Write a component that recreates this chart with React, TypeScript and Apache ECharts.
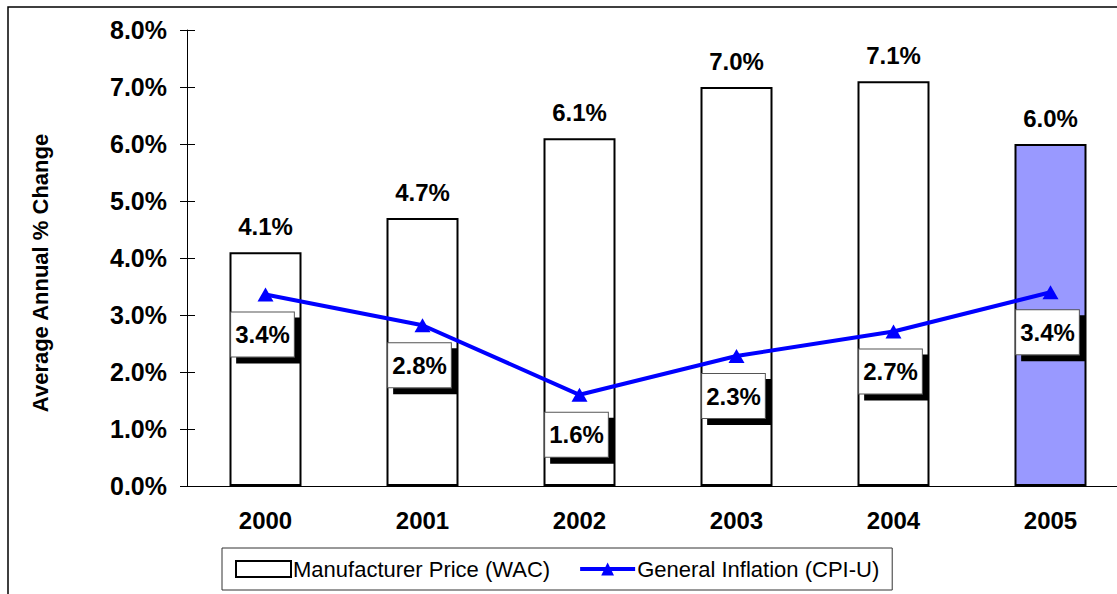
import React, { useEffect, useRef } from "react";
import * as echarts from "echarts";

const categories = ["2000", "2001", "2002", "2003", "2004", "2005"];
const wacValues = [4.1, 4.7, 6.1, 7.0, 7.1, 6.0];
const cpiValues = [3.36, 2.82, 1.6, 2.28, 2.71, 3.4];
const yTicks = [0, 1, 2, 3, 4, 5, 6, 7, 8];
const highlightCategory = "2005";
const yTitle = "Average Annual % Change";

const FONT = "'Liberation Sans', Arial, Helvetica, sans-serif";
const pct = (v: number) => v.toFixed(1) + "%";

export default function App() {
  const ref = useRef<HTMLDivElement>(null);
  useEffect(() => {
    document.body.style.margin = "0";
    const chart = echarts.init(ref.current!, null, { renderer: "svg" });
    const yMin = yTicks[0];
    const yMax = yTicks[yTicks.length - 1];
    chart.setOption({
      animation: false,
      backgroundColor: "#fff",
      textStyle: { fontFamily: FONT },
      graphic: [
        {
          type: "rect",
          shape: { x: 8, y: 7, width: 1300, height: 700 },
          style: { fill: "none", stroke: "#000", lineWidth: 1.5 },
          silent: true,
          z: -10,
        },
        {
          type: "text",
          x: 40,
          y: 273,
          rotation: Math.PI / 2,
          silent: true,
          style: {
            text: yTitle,
            fill: "#000",
            font: `bold 22px ${FONT}`,
            textAlign: "center",
            textVerticalAlign: "middle",
          },
        },
      ],
      grid: { left: 187, top: 30, right: 11, bottom: 108, containLabel: false },
      legend: {
        left: 222,
        top: 548,
        padding: [10, 13, 10, 13],
        borderColor: "#333",
        borderWidth: 1,
        backgroundColor: "#fff",
        itemGap: 28,
        itemWidth: 55,
        itemHeight: 16,
        textStyle: { fontFamily: FONT, fontSize: 22, color: "#000", padding: [0, 0, 0, -3] },
        data: [
          { name: "Manufacturer Price (WAC)", icon: "rect" },
          {
            name: "General Inflation (CPI-U)",
            lineStyle: { width: 4, color: "#0000FF" },
          },
        ],
      },
      xAxis: {
        type: "category",
        data: categories,
        axisLine: { lineStyle: { color: "#000", width: 1 } },
        axisTick: { show: false },
        axisLabel: {
          color: "#000",
          fontWeight: "bold",
          fontSize: 24,
          fontFamily: FONT,
          margin: 22,
        },
      },
      yAxis: [
        {
          type: "value",
          min: yMin,
          max: yMax,
          interval: 1,
          axisLine: { show: true, lineStyle: { color: "#000", width: 1 } },
          axisTick: { show: true, length: 7, lineStyle: { color: "#000" } },
          axisLabel: {
            color: "#000",
            fontWeight: "bold",
            fontSize: 25,
            fontFamily: FONT,
            margin: 20,
            formatter: (v: number) => pct(v),
          },
          splitLine: { show: false },
        },
        {
          type: "value",
          min: yMin,
          max: yMax,
          interval: 1,
          position: "left",
          axisLine: { show: false },
          axisTick: { show: true, inside: true, length: 8, lineStyle: { color: "#000" } },
          axisLabel: { show: false },
          splitLine: { show: false },
        },
      ],
      series: [
        {
          name: "Manufacturer Price (WAC)",
          type: "bar",
          barWidth: 72,
          yAxisIndex: 0,
          itemStyle: { color: "#fff", borderColor: "#000", borderWidth: 2 },
          data: wacValues.map((v, i) =>
            categories[i] === highlightCategory
              ? { value: v, itemStyle: { color: "#9999FF" } }
              : v
          ),
          label: {
            show: true,
            position: "top",
            distance: 14,
            color: "#000",
            fontWeight: "bold",
            fontSize: 24,
            fontFamily: FONT,
            formatter: (p: any) => pct(p.value),
          },
          z: 1,
        },
        {
          name: "General Inflation (CPI-U)",
          type: "line",
          yAxisIndex: 0,
          data: cpiValues,
          symbol: "triangle",
          symbolSize: [16, 14],
          lineStyle: { color: "#0000FF", width: 4 },
          itemStyle: { color: "#0000FF" },
          label: {
            show: true,
            position: "bottom",
            distance: 11,
            offset: [-3, 0],
            color: "#000",
            fontWeight: "bold",
            fontSize: 24,
            fontFamily: FONT,
            lineHeight: 28,
            backgroundColor: "#fff",
            borderColor: "#555",
            borderWidth: 1,
            padding: [8, 4, 8, 4],
            shadowColor: "#000",
            shadowBlur: 0,
            shadowOffsetX: 6,
            shadowOffsetY: 6,
            formatter: (p: any) => pct(p.value),
          },
          z: 3,
        },
      ],
    });
    return () => chart.dispose();
  }, []);
  return (
    <div style={{ width: 1117, height: 594, overflow: "hidden", position: "relative" }}>
      <div ref={ref} style={{ width: 1140, height: 594 }} />
    </div>
  );
}
